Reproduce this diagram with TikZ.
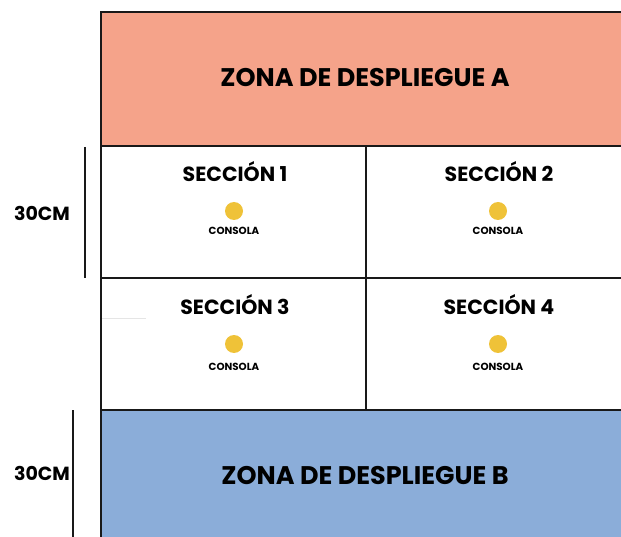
\documentclass[tikz,border=0pt]{standalone}
\usepackage{fontspec}
\setmainfont{Poppins}
\definecolor{zonea}{HTML}{F5A38A}
\definecolor{zoneb}{HTML}{8BADD9}
\definecolor{dot}{HTML}{EFC238}
\begin{document}
\begin{tikzpicture}[x=1pt,y=-1pt,
  frame/.style={draw=black!90,line width=1.9pt},
  zonetitle/.style={font=\fontsize{25.5}{28}\selectfont\bfseries},
  sectitle/.style={font=\fontsize{20.5}{23}\selectfont\bfseries},
  conlabel/.style={font=\fontsize{10.3}{12}\selectfont\bfseries},
  dimlabel/.style={font=\fontsize{19}{21}\selectfont\bfseries},
  dimbar/.style={draw=black!90,line width=1.7pt},
  consdot/.style={circle,fill=dot,minimum size=18pt,inner sep=0pt}]
\useasboundingbox (0,0) rectangle (621,537);
\begin{scope}
\clip (0,0) rectangle (621,537);
\fill[zonea] (101,12) rectangle (640,146);
\fill[zoneb] (101,410) rectangle (640,560);
\draw[gray!20,line width=0.8pt] (101,318) -- (146,318);
\draw[frame] (101,560) -- (101,12) -- (640,12);
\draw[frame] (101,146) -- (640,146);
\draw[frame] (101,278) -- (640,278);
\draw[frame] (101,410) -- (640,410);
\draw[frame] (366,146) -- (366,410);
\end{scope}
\node[zonetitle] (za) at (365,78) {ZONA DE DESPLIEGUE A};
\node[zonetitle] (zb) at (365,476) {ZONA DE DESPLIEGUE B};
\node[sectitle] (s1) at (235,172) {SECCIÓN 1};
\node[sectitle] (s2) at (499,172) {SECCIÓN 2};
\node[sectitle] (s3) at (235,305) {SECCIÓN 3};
\node[sectitle] (s4) at (499,305) {SECCIÓN 4};
\node[consdot] (d1) at (234,211) {};
\node[consdot] (d2) at (498,211) {};
\node[consdot] (d3) at (234,344) {};
\node[consdot] (d4) at (498,344) {};
\node[conlabel] (c1) at (234,231) {CONSOLA};
\node[conlabel] (c2) at (498,231) {CONSOLA};
\node[conlabel] (c3) at (234,367) {CONSOLA};
\node[conlabel] (c4) at (498,367) {CONSOLA};
\coordinate (b1t) at (85,147);
\coordinate (b1b) at (85,278);
\coordinate (b2t) at (73,410);
\coordinate (b2b) at (73,537);
\draw[dimbar] (b1t) -- (b1b);
\draw[dimbar] (b2t) -- (b2b);
\node[dimlabel] (l1) at (42,213) {30CM};
\node[dimlabel] (l2) at (42,473) {30CM};
\end{tikzpicture}
\end{document}
